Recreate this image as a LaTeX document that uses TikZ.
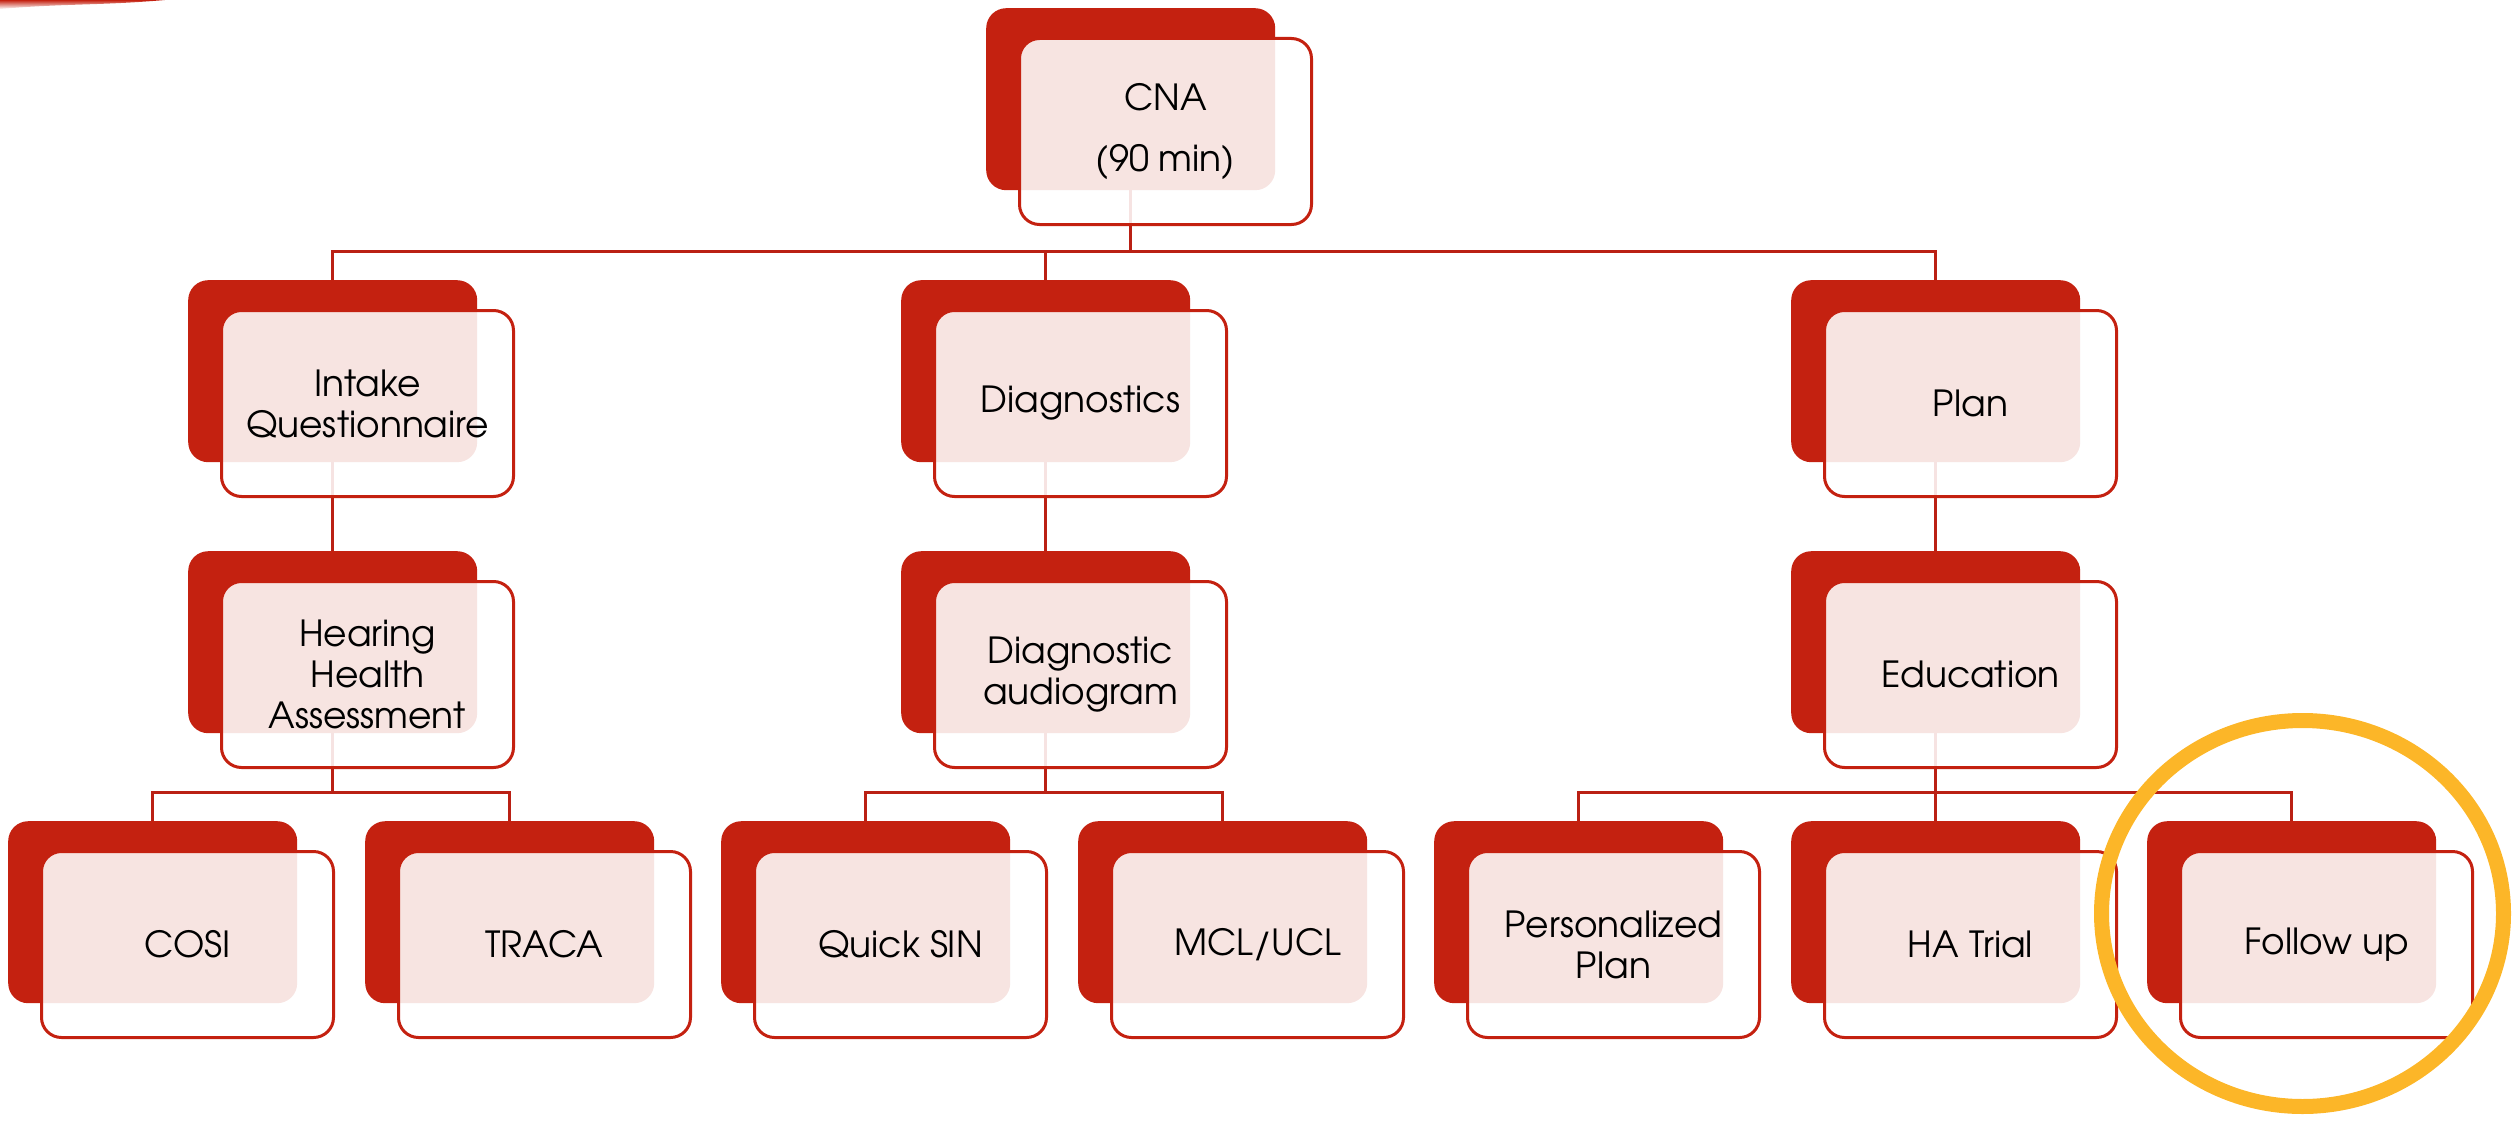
\documentclass[tikz,border=0pt]{standalone}
\usepackage{fontspec}
\setmainfont{TeX Gyre Adventor}
\usetikzlibrary{calc}
\definecolor{boxred}{RGB}{196,33,16}
\definecolor{linkred}{RGB}{186,32,20}
\definecolor{ringgold}{RGB}{252,182,40}
\pgfdeclarelayer{links}
\pgfsetlayers{links,main}
\tikzset{
  redbox/.style={fill=boxred, rounded corners=20pt, minimum width=289pt,
    minimum height=182pt, inner sep=0pt, anchor=north west},
  frontbox/.style={draw=boxred, line width=3pt, fill=white, fill opacity=0.88,
    text opacity=1, rounded corners=20pt, minimum width=292pt,
    minimum height=186pt, inner sep=0pt, anchor=north west, align=center,
    font=\fontsize{36}{41}\selectfont, text=black},
  link/.style={draw=linkred, line width=3pt},
  ring/.style={draw=ringgold, line width=15pt},
}
% one chart entry: solid back card plus translucent front card with the label
\newcommand\orgcard[4]{%
  \node[redbox] (#1R) at (#2,#3) {};
  \node[frontbox] (#1) at (#2+32,#3+29) {#4};
}
\begin{document}
\begin{tikzpicture}[x=1pt,y=-1pt]
\useasboundingbox (0,0) rectangle (2514,1124);

% decorative swoosh in the corner
\shade[left color=boxred, right color=white, shading angle=0]
  (0,0) -- (165,0) to[out=185,in=5] (0,9) -- cycle;

% bus levels
\coordinate (busTop) at (0,251);
\coordinate (busLow) at (0,792);

% level 1
\orgcard{cna}{986}{8}{CNA\\[20pt](90 min)}
% level 2
\orgcard{intake}{188}{280}{Intake\\Questionnaire}
\orgcard{diag}{901}{280}{Diagnostics}
\orgcard{plan}{1791}{280}{Plan}
% level 3
\orgcard{hha}{188}{551}{Hearing\\Health\\Assessment}
\orgcard{audio}{901}{551}{Diagnostic\\audiogram}
\orgcard{edu}{1791}{551}{Education}
% level 4
\orgcard{cosi}{8}{821}{COSI}
\orgcard{traca}{365}{821}{TRACA}
\orgcard{qsin}{721}{821}{Quick SIN}
\orgcard{mcl}{1078}{821}{MCL/UCL}
\orgcard{pers}{1434}{821}{Personalized\\Plan}
\orgcard{hat}{1791}{821}{HA Trial}
\orgcard{fup}{2147}{821}{Follow up}

\begin{pgfonlayer}{links}
  \foreach \c in {intakeR,diagR,planR}
    \draw[link] (cnaR.center) -- (cnaR.center |- busTop) -| (\c.center);
  \draw[link] (intakeR.center) -- (hhaR.center);
  \draw[link] (diagR.center) -- (audioR.center);
  \draw[link] (planR.center) -- (eduR.center);
  \foreach \c in {cosiR,tracaR}
    \draw[link] (hhaR.center) -- (hhaR.center |- busLow) -| (\c.center);
  \foreach \c in {qsinR,mclR}
    \draw[link] (audioR.center) -- (audioR.center |- busLow) -| (\c.center);
  \foreach \c in {persR,hatR,fupR}
    \draw[link] (eduR.center) -- (eduR.center |- busLow) -| (\c.center);
\end{pgfonlayer}

% highlight ring around the last card
\draw[ring] (fup.center) ++(-24,-31) ellipse [x radius=201, y radius=193];
\end{tikzpicture}
\end{document}
